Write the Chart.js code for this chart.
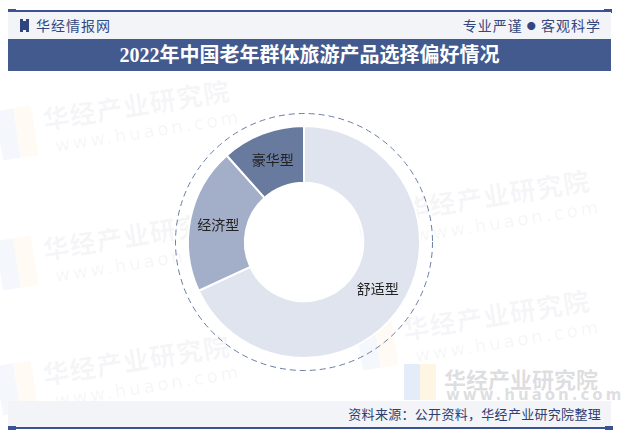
<!DOCTYPE html>
<html>
<head>
<meta charset="utf-8">
<script src="https://cdn.jsdelivr.net/npm/chart.js@4.4.0/dist/chart.umd.min.js"></script>
<style>
  body { margin: 0; width: 626px; height: 438px; background: #fff; position: relative; overflow: hidden; font-family: "Noto Sans CJK SC", sans-serif; }
  .abs { position: absolute; }
  .wm { position: absolute; color: rgba(150, 155, 170, 0.09); font-weight: bold; white-space: nowrap; transform: rotate(-9deg); transform-origin: left top; }
  .wm .cn { font-size: 26px; letter-spacing: 1px; }
  .wm .en { font-size: 18px; font-family: "DejaVu Sans", sans-serif; letter-spacing: 3px; font-weight: normal; margin-left: 8px; }
  .wm .logo { position: absolute; left: -46px; top: 4px; width: 18px; height: 50px; background: rgba(120, 160, 230, 0.08); }
  .wm .logo2 { position: absolute; left: -28px; top: 4px; width: 18px; height: 50px; background: rgba(250, 210, 110, 0.08); }
</style>
</head>
<body>
<!-- watermarks -->
<div class="wm" style="left:40px; top:100px;"><div class="logo"></div><div class="logo2"></div><div class="cn">华经产业研究院</div><div class="en">www.huaon.com</div></div>
<div class="wm" style="left:40px; top:230px;"><div class="logo"></div><div class="logo2"></div><div class="cn">华经产业研究院</div><div class="en">www.huaon.com</div></div>
<div class="wm" style="left:40px; top:355px;"><div class="logo"></div><div class="logo2"></div><div class="cn">华经产业研究院</div><div class="en">www.huaon.com</div></div>
<div class="wm" style="left:400px; top:190px;"><div class="logo"></div><div class="logo2"></div><div class="cn">华经产业研究院</div><div class="en">www.huaon.com</div></div>
<div class="wm" style="left:400px; top:310px;"><div class="logo"></div><div class="logo2"></div><div class="cn">华经产业研究院</div><div class="en">www.huaon.com</div></div>
<div class="abs" style="left:404px; top:364px; width:16px; height:36px; background:rgba(120,160,230,0.20);"></div>
<div class="abs" style="left:420px; top:364px; width:16px; height:36px; background:rgba(250,210,110,0.20);"></div>
<div class="abs" style="left:444px; top:362px; font-size:22px; font-weight:bold; color:rgba(150,150,160,0.32); white-space:nowrap;">华经产业研究院</div>
<div class="abs" style="left:446px; top:386px; font-size:15px; font-family:'DejaVu Sans',sans-serif; font-weight:bold; letter-spacing:3px; color:rgba(150,150,160,0.32); white-space:nowrap;">www.huaon.com</div>

<!-- header -->
<div class="abs" style="left:8px; top:10px; width:604px; height:2px; background:#3b5394;"></div>
<div class="abs" style="left:8px; top:9px; width:8px; height:4px; background:#3b5394;"></div>
<div class="abs" style="left:604px; top:9px; width:8px; height:4px; background:#3b5394;"></div>
<div class="abs" style="left:8px; top:12px; width:603px; height:27px; background:#f3f4f8;"></div>
<div class="abs" style="left:20px; top:19px; width:3px; height:13px; background:#2f4480;"></div>
<div class="abs" style="left:22px; top:21px; width:4px; height:9px; background:#2f4480;"></div>
<div class="abs" style="left:26px; top:19px; width:3px; height:13px; background:#2f4480;"></div>
<div class="abs" style="left:36px; top:16px; font-size:14px; color:#34477e; letter-spacing:1px; line-height:19px;">华经情报网</div>
<div class="abs" style="right:25px; top:16px; font-size:14px; color:#34477e; letter-spacing:1px; line-height:19px;">专业严谨 <span style="font-size:9px; vertical-align:2px;">●</span> 客观科学</div>
<div class="abs" style="left:8px; top:39px; width:603px; height:32px; background:#435a8f;"></div>
<div class="abs" style="left:8px; top:39px; width:603px; height:32px; line-height:32px; text-align:center; color:#fff; font-size:20px; font-weight:bold; font-family:'Liberation Serif','Noto Sans CJK SC',serif;">2022年中国老年群体旅游产品选择偏好情况</div>

<!-- footer -->
<div class="abs" style="left:8px; top:401px; width:603px; height:26px; background:#f3f4f8;"></div>
<div class="abs" style="left:8px; top:427px; width:604px; height:2px; background:#3b5394;"></div>
<div class="abs" style="left:8px; top:426px; width:8px; height:4px; background:#3b5394;"></div>
<div class="abs" style="left:605px; top:426px; width:8px; height:4px; background:#3b5394;"></div>
<div class="abs" style="right:25px; top:405px; font-size:13px; color:#2d3e73; letter-spacing:0.3px; line-height:18px;">资料来源：公开资料，华经产业研究院整理</div>

<canvas id="pie" class="abs" style="left:154px; top:92px;" width="300" height="300"></canvas>

<script>
// categories and shares (%)
const categories = ["舒适型", "经济型", "豪华型"];
const shares = [68.1, 20.3, 11.6];
const sliceColors = ["#dfe4ee", "#a3afc8", "#687b9f"];

// dashed ring around the doughnut + labels in the middle of each slice
const ringAndLabels = {
  id: "ringAndLabels",
  afterDatasetsDraw(chart) {
    const c = chart.ctx;
    const meta = chart.getDatasetMeta(0);
    const arc = meta.data[0];
    c.save();
    c.beginPath();
    c.setLineDash([6, 4]);
    c.strokeStyle = "#6a7ca3";
    c.lineWidth = 1;
    c.arc(arc.x, arc.y, 128.5, 0, Math.PI * 2);
    c.stroke();
    c.setLineDash([]);
    c.font = "14px 'Noto Sans CJK SC'";
    c.fillStyle = "#222";
    c.textAlign = "center";
    c.textBaseline = "middle";
    meta.data.forEach((el, i) => {
      const p = el.tooltipPosition();
      c.fillText(categories[i], p.x, p.y);
    });
    c.restore();
  }
};

new Chart(document.getElementById("pie"), {
  type: "doughnut",
  data: {
    labels: categories,
    datasets: [{
      data: shares,
      backgroundColor: sliceColors,
      borderColor: "#ffffff",
      borderWidth: 2
    }]
  },
  options: {
    responsive: false,
    animation: false,
    radius: 116,
    cutout: "51%",
    plugins: {
      legend: { display: false },
      tooltip: { enabled: false }
    }
  },
  plugins: [ringAndLabels]
});
</script>
</body>
</html>
